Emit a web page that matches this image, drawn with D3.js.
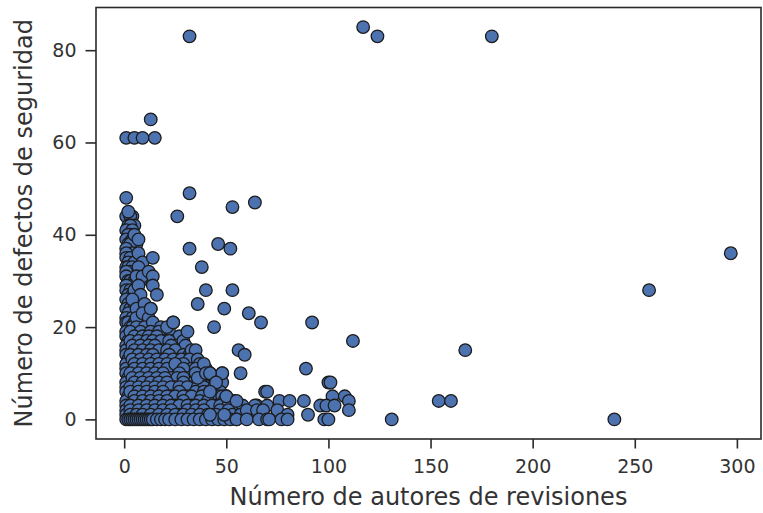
<!DOCTYPE html>
<html>
<head>
<meta charset="utf-8">
<script src="https://cdn.jsdelivr.net/npm/d3@7"></script>
<style>
  html, body { margin: 0; padding: 0; background: #fff; }
  svg { display: block; }
  text { font-family: "DejaVu Sans", sans-serif; fill: #333; }
</style>
</head>
<body>
<svg id="chart" width="763" height="513"></svg>
<script>
// Número de autores de revisiones (x) vs. número de defectos de seguridad (y)

// Columna junto al eje: proyectos con pocos autores
const columna = [
  [1,48],[1,44],[4,44],[3,44],[2,45],[2,42],[5,42],[3,42],[1,41],[4,41],[3,40],[2,40],
  [1,39],[4,39],[2,38],[6,38],[3,38],[1,37],[4,36],[1,36],[6,35],[1,35],[3,35],[2,34],
  [5,34],[1,33],[2,33],[4,33],[3,32],[1,32],[1,31],[2,30],[3,30],[5,30],[4,29],[1,29],
  [1,28],[3,28],[2,27],[4,27],[5,28],[1,26],[6,26],[3,25],[2,25],[1,24],[3,24],[5,25],
  [2,23],[1,22],[4,22],[1,21],[2,21],[5,21],[3,20],[4,20],[1,19],[1,18],[2,17],[1,16],
  [1,15],[1,14],[2,13],[1,12],[1,11],[1,10],[2,9],[1,8],[1,7],[1,6],[2,5],[1,4],
  [1,3],[1,2],[1,1],[1,0],[7,36],[9,34],[8,30],[7,33],[6,31],[9,31],[7,29],[8,27],
  [4,26],[6,24],[10,25],[13,24],[6,22],[9,23],[12,22],[5,40],[7,39]
];

// Núcleo denso: pocos autores y pocos defectos
const nucleo = [
  [6,20],[10,20],[14,21],[18,20],[24,21],[22,19],
  [3,19],[8,19],[13,19],[17,19],[21,20],
  [5,18],[9,18],[12,18],[16,18],[20,17],[24,17],[27,18],
  [3,17],[7,17],[11,17],[14,17],[18,17],[22,17],[26,16],[29,17],
  [4,16],[8,16],[12,16],[15,16],[19,15],[23,16],[27,15],[30,16],
  [5,15],[9,15],[13,15],[17,15],[21,15],[25,15],[29,14],[32,14],
  [3,14],[7,14],[11,14],[14,14],[18,13],[22,14],[26,13],[30,13],[33,15],[35,15],
  [4,13],[8,13],[12,13],[16,13],[20,13],[24,13],[28,13],[32,13],[36,13],
  [5,12],[9,12],[13,12],[17,12],[21,12],[25,11],[29,12],[33,11],[37,12],[40,11],
  [5,11],[9,11],[13,11],[17,11],[21,11],[25,12],[29,11],[35,11],[39,12],
  [3,10],[7,10],[11,10],[15,10],[19,10],[23,9],[27,10],[31,9],[35,10],[38,9],[42,10],[48,10],
  [4,9],[8,9],[12,9],[16,9],[20,9],[26,9],[29,9],[34,8],[40,9],[44,9],
  [5,8],[9,8],[13,8],[17,8],[21,8],[25,7],[29,8],[33,7],[37,8],[41,7],[45,8],[48,8],
  [3,7],[7,7],[11,7],[15,7],[19,7],[23,7],[27,7],[31,7],[36,7],[39,7],[44,7],[47,6],
  [3,6],[7,6],[11,6],[15,6],[19,6],[23,5],[27,6],[31,5],[35,6],[39,6],[42,6],[46,5],[50,5],
  [5,5],[9,5],[13,5],[17,5],[21,5],[25,5],[29,5],[33,5],[38,5],[43,5],[48,5],[52,4],
  [5,4],[9,4],[13,4],[17,4],[21,4],[25,3],[29,4],[33,3],[37,4],[41,4],[45,3],[49,4],[54,4],
  [3,3],[7,3],[11,3],[15,3],[19,3],[23,3],[27,3],[31,3],[35,3],[39,3],[43,3],[47,3],[51,3],[56,2],
  [3,2],[7,2],[11,2],[15,2],[19,2],[23,2],[27,1],[31,2],[35,2],[39,2],[43,1],[47,2],[51,2],[58,3],[62,2],
  [3,1],[6,1],[9,1],[13,1],[17,1],[21,1],[25,1],[29,1],[33,1],[37,1],[41,1],[45,1],[53,1],[57,1],
  [2,0],[3,0],[4,0],[5,0],[6,0],[7,0],[8,0],[9,0],[10,0],[11,0],[12,0],[13,0],[14,0],[16,0],
  [18,0],[20,0],[22,0],[25,0],[28,0],[31,0],[34,0],[37,0],[40,0],[43,0],[46,0],[49,0],[52,0],[55,0]
];

// Puntos dispersos alrededor del núcleo
const dispersos = [
  [1,61],[5,61],[9,61],[15,61],[13,65],[32,83],
  [32,49],[26,44],[53,46],[64,47],[32,37],[46,38],[52,37],[38,33],[40,28],[53,28],
  [36,25],[14,35],[12,32],[14,31],[14,29],[16,27],[13,24],[31,19],[24,21],[44,20],
  [49,24],[61,23],[67,21],[92,21],[112,17],[56,15],[59,14],[57,10],[89,11],[48,10],
  [36,9],[40,10],[42,10],[45,8],[42,6],[50,5],[55,4],[69,6],[70,6],[100,8],[101,8],
  [102,5],[108,5],[110,4],[110,2],[76,4],[81,4],[88,4],[65,3],[70,3],[96,3],[99,3],
  [103,3],[64,3],[75,2],[60,2],[65,2],[68,2],[90,1],[80,1],[42,1],[49,1],
  [55,0],[60,0],[66,0],[70,0],[71,0],[77,0],[80,0],[98,0],[100,0]
];

// Proyectos con muchos autores
const extremos = [
  [117,85],[124,83],[180,83],[297,36],[257,28],[167,15],[154,4],[160,4],[131,0],[240,0]
];

const xTicks = [0, 50, 100, 150, 200, 250, 300];
const yTicks = [0, 20, 40, 60, 80];

const datos = [...columna, ...nucleo, ...dispersos, ...extremos];

const svg = d3.select("#chart");
const margenIzq = 96, margenDer = 761, margenSup = 7.5, margenInf = 439;

// dominio con un 5 % de margen, como hace matplotlib
const xExt = d3.extent(datos, d => d[0]);
const yExt = d3.extent(datos, d => d[1]);
const xPad = (xExt[1] - xExt[0]) * 0.05;
const yPad = (yExt[1] - yExt[0]) * 0.05;

const x = d3.scaleLinear().domain([xExt[0] - xPad, xExt[1] + xPad]).range([margenIzq, margenDer]);
const y = d3.scaleLinear().domain([yExt[0] - yPad, yExt[1] + yPad]).range([margenInf, margenSup]);

// puntos
svg.append("g")
  .selectAll("circle")
  .data(datos)
  .join("circle")
  .attr("cx", d => x(d[0]))
  .attr("cy", d => y(d[1]))
  .attr("r", 6.3)
  .attr("fill", "#4c72b0")
  .attr("stroke", "#1c1c1c")
  .attr("stroke-width", 1.3);

// ejes
const xAxis = d3.axisBottom(x).tickValues(xTicks).tickSize(9.5).tickPadding(11).tickSizeOuter(0);
const yAxis = d3.axisLeft(y).tickValues(yTicks).tickSize(10.5).tickPadding(9).tickSizeOuter(0);

const gx = svg.append("g").attr("transform", `translate(0,${margenInf})`).call(xAxis);
const gy = svg.append("g").attr("transform", `translate(${margenIzq},0)`).call(yAxis);

[gx, gy].forEach(g => {
  g.select(".domain").remove();
  g.selectAll(".tick line").attr("stroke", "#2a2a2a").attr("stroke-width", 1.6);
  g.selectAll(".tick text").attr("font-size", 19).attr("fill", "#3a3a3a")
    .attr("font-family", "DejaVu Sans, sans-serif");
});

// marco
svg.append("rect")
  .attr("x", margenIzq).attr("y", margenSup)
  .attr("width", margenDer - margenIzq).attr("height", margenInf - margenSup)
  .attr("fill", "none").attr("stroke", "#2a2a2a").attr("stroke-width", 1.6);

// títulos de los ejes
svg.append("text")
  .attr("x", (margenIzq + margenDer) / 2).attr("y", 505)
  .attr("text-anchor", "middle").attr("font-size", 24).attr("fill", "#3a3a3a")
  .text("Número de autores de revisiones");

svg.append("text")
  .attr("transform", `translate(32,${(margenSup + margenInf) / 2}) rotate(-90)`)
  .attr("text-anchor", "middle").attr("font-size", 24).attr("fill", "#3a3a3a")
  .text("Número de defectos de seguridad");
</script>
</body>
</html>
